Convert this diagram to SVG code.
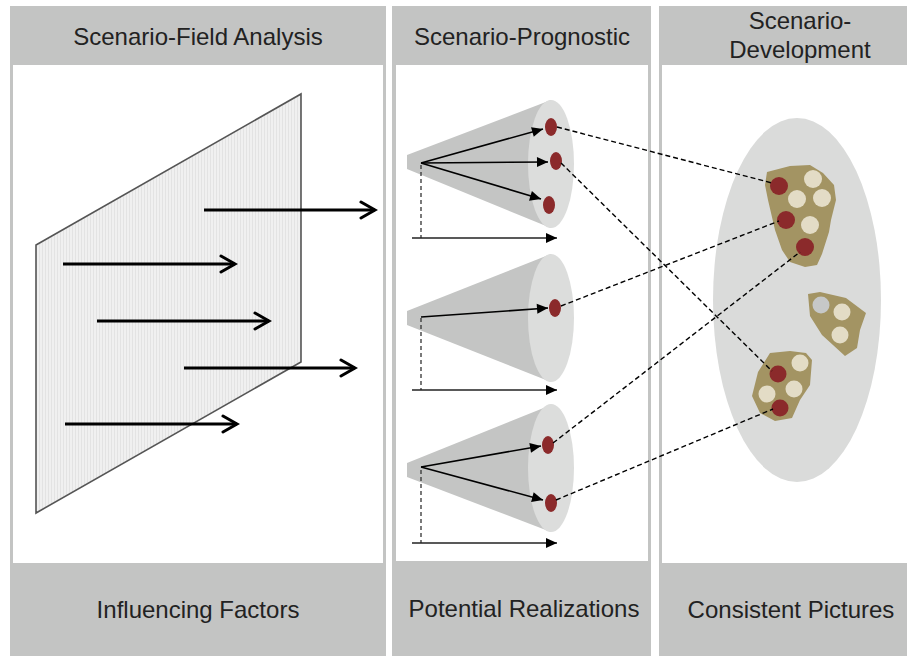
<svg xmlns="http://www.w3.org/2000/svg" width="907" height="656" viewBox="0 0 907 656">
  <style>
    .band { fill: #c3c4c3; }
    .body { fill: #ffffff; }
    .title { font-family: "Liberation Sans", Arial, sans-serif; font-size: 24px; fill: #222222; text-anchor: middle; }
    .force { stroke: #000000; stroke-width: 3; fill: none; marker-end: url(#chev); }
    .ray { stroke: #000000; stroke-width: 1.6; fill: none; marker-end: url(#tri); }
    .axis { stroke: #222222; stroke-width: 1.4; fill: none; marker-end: url(#tri); }
    .drop { stroke: #333333; stroke-width: 1.3; stroke-dasharray: 4 3; fill: none; }
    .link { stroke: #000000; stroke-width: 1.4; stroke-dasharray: 5 3; fill: none; }
    .cone { fill: #c4c5c4; }
    .face { fill: #dcdddc; }
    .seed { fill: #8b2a2b; }
    .blob { fill: #a39463; }
    .red { fill: #8b2a2b; }
    .cream { fill: #e3dcc6; }
    .grey { fill: #c6c8c8; }
  </style>
  <defs>
    <pattern id="grain" width="3" height="6" patternUnits="userSpaceOnUse">
      <rect width="3" height="6" fill="#f0f0f0"/>
      <rect x="0" width="1" height="6" fill="#e3e3e3"/>
    </pattern>
    <marker id="chev" markerUnits="userSpaceOnUse" markerWidth="20" markerHeight="22" viewBox="-17 -11 20 22" refX="0" refY="0" orient="auto">
      <path d="M-14,-8 L0,0 L-14,8" fill="none" stroke="#000" stroke-width="3" stroke-linecap="round" stroke-linejoin="miter"/>
    </marker>
    <marker id="tri" markerUnits="userSpaceOnUse" markerWidth="14" markerHeight="12" viewBox="-12 -6 14 12" refX="0" refY="0" orient="auto">
      <path d="M-11,-5 L0,0 L-11,5 Z" fill="#000"/>
    </marker>
  </defs>

  <!-- column frames -->
  <g id="col-field">
    <rect class="band" x="10" y="6" width="376" height="650"/>
    <rect class="body" x="13" y="65" width="370" height="498"/>
    <text class="title" x="198" y="45">Scenario-Field Analysis</text>
    <text class="title" x="198" y="618">Influencing Factors</text>
  </g>
  <g id="col-prognostic">
    <rect class="band" x="392" y="6" width="259" height="650"/>
    <rect class="body" x="396" y="65" width="252" height="496"/>
    <text class="title" x="522" y="45">Scenario-Prognostic</text>
    <text class="title" x="524" y="617">Potential Realizations</text>
  </g>
  <g id="col-development">
    <rect class="band" x="659" y="6" width="260" height="650"/>
    <rect class="body" x="662" y="65" width="250" height="498"/>
    <text class="title" x="800" y="29">Scenario-</text>
    <text class="title" x="800" y="58">Development</text>
    <text class="title" x="791" y="618">Consistent Pictures</text>
  </g>

  <!-- influence plane with driving factors -->
  <g id="plane">
    <polygon points="36,245 301,94 301,362 36,513" fill="url(#grain)" stroke="#555555" stroke-width="1.6"/>
    <line class="force" x1="204" y1="210" x2="375" y2="210"/>
    <line class="force" x1="63" y1="264" x2="235" y2="264"/>
    <line class="force" x1="97" y1="321" x2="269" y2="321"/>
    <line class="force" x1="184" y1="368" x2="355" y2="368"/>
    <line class="force" x1="65" y1="424" x2="237" y2="424"/>
  </g>

  <!-- projection cones -->
  <g id="cone-1">
    <polygon class="cone" points="407,155 407,169 551,228 551,100"/>
    <ellipse class="face" cx="551" cy="164" rx="23" ry="64"/>
    <ellipse class="seed" cx="551" cy="127" rx="6" ry="9"/>
    <ellipse class="seed" cx="556" cy="161" rx="6" ry="9"/>
    <ellipse class="seed" cx="549" cy="205" rx="6" ry="9"/>
    <line class="drop" x1="421" y1="165" x2="421" y2="238"/>
    <line class="axis" x1="412" y1="238" x2="557" y2="238"/>
    <line class="ray" x1="421" y1="163" x2="543" y2="129"/>
    <line class="ray" x1="421" y1="163" x2="548" y2="162"/>
    <line class="ray" x1="421" y1="163" x2="541" y2="199"/>
  </g>
  <g id="cone-2">
    <polygon class="cone" points="407,311 407,325 551,382 551,254"/>
    <ellipse class="face" cx="551" cy="318" rx="23" ry="64"/>
    <ellipse class="seed" cx="555" cy="308" rx="6" ry="9"/>
    <line class="drop" x1="421" y1="318" x2="421" y2="390"/>
    <line class="axis" x1="412" y1="390" x2="557" y2="390"/>
    <line class="ray" x1="421" y1="317" x2="548" y2="308"/>
  </g>
  <g id="cone-3">
    <polygon class="cone" points="407,463 407,477 551,532 551,405"/>
    <ellipse class="face" cx="551" cy="468" rx="23" ry="64"/>
    <ellipse class="seed" cx="548" cy="445" rx="6" ry="9"/>
    <ellipse class="seed" cx="551" cy="503" rx="6" ry="9"/>
    <line class="drop" x1="421" y1="470" x2="421" y2="543"/>
    <line class="axis" x1="412" y1="543" x2="557" y2="543"/>
    <line class="ray" x1="421" y1="467" x2="541" y2="446"/>
    <line class="ray" x1="421" y1="467" x2="543" y2="500"/>
  </g>

  <!-- scenario space -->
  <g id="scenario-space">
    <ellipse cx="797" cy="300" rx="84" ry="182" fill="#dadbda"/>
  </g>
  <g id="picture-1">
    <polygon class="blob" points="767,172 790,166 810,165 823,173 834,185 836,200 831,220 829,232 822,254 817,265 805,267 790,262 782,250 775,230 768,200 765,185"/>
    <circle class="red" cx="779" cy="186" r="9"/>
    <circle class="cream" cx="813" cy="179" r="9"/>
    <circle class="cream" cx="797" cy="199" r="9"/>
    <circle class="cream" cx="822" cy="198" r="9"/>
    <circle class="red" cx="786" cy="220" r="9"/>
    <circle class="cream" cx="810" cy="225" r="9"/>
    <circle class="red" cx="805" cy="247" r="9"/>
  </g>
  <g id="picture-2">
    <polygon class="blob" points="808,294 820,292 846,298 866,313 860,330 857,348 845,356 833,345 822,335 810,316"/>
    <circle class="grey" cx="821" cy="305" r="8.5"/>
    <circle class="cream" cx="842" cy="312" r="8.5"/>
    <circle class="cream" cx="840" cy="335" r="8.5"/>
  </g>
  <g id="picture-3">
    <polygon class="blob" points="770,353 790,351 806,353 812,360 810,385 800,400 792,418 775,421 760,413 752,396 758,372"/>
    <circle class="red" cx="778" cy="374" r="8.5"/>
    <circle class="cream" cx="800" cy="363" r="8.5"/>
    <circle class="cream" cx="794" cy="389" r="8.5"/>
    <circle class="cream" cx="767" cy="394" r="8.5"/>
    <circle class="red" cx="780" cy="408" r="8.5"/>
  </g>

  <!-- realization-to-picture links -->
  <g id="links">
    <line class="link" x1="557" y1="127" x2="772" y2="183"/>
    <line class="link" x1="561" y1="163" x2="772" y2="371"/>
    <line class="link" x1="561" y1="306" x2="779" y2="221"/>
    <line class="link" x1="553" y1="443" x2="800" y2="252"/>
    <line class="link" x1="556" y1="500" x2="773" y2="409"/>
  </g>
</svg>
